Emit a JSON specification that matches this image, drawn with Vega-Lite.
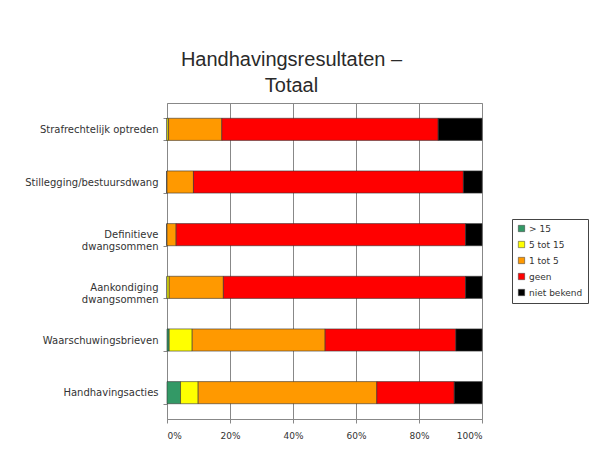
{
  "$schema": "https://vega.github.io/schema/vega-lite/v6.json",
  "width": 315,
  "height": 316,
  "autosize": {"type": "none"},
  "padding": {"left": 167, "top": 103, "right": 112, "bottom": 34},
  "background": "white",
  "title": {
    "text": ["Handhavingsresultaten –", "Totaal"],
    "font": "Liberation Sans",
    "fontSize": 20,
    "fontWeight": "normal",
    "color": "#2a2a2a",
    "lineHeight": 26,
    "anchor": "middle",
    "dx": -33,
    "offset": 2
  },
  "data": {
    "values": [
      {"activiteit": "Strafrechtelijk optreden", "categorie": "> 15", "volgorde": 1, "pct": 0},
      {"activiteit": "Strafrechtelijk optreden", "categorie": "5 tot 15", "volgorde": 2, "pct": 0.5},
      {"activiteit": "Strafrechtelijk optreden", "categorie": "1 tot 5", "volgorde": 3, "pct": 16.9},
      {"activiteit": "Strafrechtelijk optreden", "categorie": "geen", "volgorde": 4, "pct": 68.7},
      {"activiteit": "Strafrechtelijk optreden", "categorie": "niet bekend", "volgorde": 5, "pct": 13.9},
      {"activiteit": "Stillegging/bestuursdwang", "categorie": "> 15", "volgorde": 1, "pct": 0},
      {"activiteit": "Stillegging/bestuursdwang", "categorie": "5 tot 15", "volgorde": 2, "pct": 0},
      {"activiteit": "Stillegging/bestuursdwang", "categorie": "1 tot 5", "volgorde": 3, "pct": 8.4},
      {"activiteit": "Stillegging/bestuursdwang", "categorie": "geen", "volgorde": 4, "pct": 85.7},
      {"activiteit": "Stillegging/bestuursdwang", "categorie": "niet bekend", "volgorde": 5, "pct": 5.9},
      {"activiteit": "Definitieve dwangsommen", "categorie": "> 15", "volgorde": 1, "pct": 0},
      {"activiteit": "Definitieve dwangsommen", "categorie": "5 tot 15", "volgorde": 2, "pct": 0},
      {"activiteit": "Definitieve dwangsommen", "categorie": "1 tot 5", "volgorde": 3, "pct": 2.9},
      {"activiteit": "Definitieve dwangsommen", "categorie": "geen", "volgorde": 4, "pct": 91.9},
      {"activiteit": "Definitieve dwangsommen", "categorie": "niet bekend", "volgorde": 5, "pct": 5.2},
      {"activiteit": "Aankondiging dwangsommen", "categorie": "> 15", "volgorde": 1, "pct": 0},
      {"activiteit": "Aankondiging dwangsommen", "categorie": "5 tot 15", "volgorde": 2, "pct": 0.7},
      {"activiteit": "Aankondiging dwangsommen", "categorie": "1 tot 5", "volgorde": 3, "pct": 17.2},
      {"activiteit": "Aankondiging dwangsommen", "categorie": "geen", "volgorde": 4, "pct": 76.9},
      {"activiteit": "Aankondiging dwangsommen", "categorie": "niet bekend", "volgorde": 5, "pct": 5.2},
      {"activiteit": "Waarschuwingsbrieven", "categorie": "> 15", "volgorde": 1, "pct": 0.7},
      {"activiteit": "Waarschuwingsbrieven", "categorie": "5 tot 15", "volgorde": 2, "pct": 7.3},
      {"activiteit": "Waarschuwingsbrieven", "categorie": "1 tot 5", "volgorde": 3, "pct": 42.2},
      {"activiteit": "Waarschuwingsbrieven", "categorie": "geen", "volgorde": 4, "pct": 41.5},
      {"activiteit": "Waarschuwingsbrieven", "categorie": "niet bekend", "volgorde": 5, "pct": 8.3},
      {"activiteit": "Handhavingsacties", "categorie": "> 15", "volgorde": 1, "pct": 4.3},
      {"activiteit": "Handhavingsacties", "categorie": "5 tot 15", "volgorde": 2, "pct": 5.6},
      {"activiteit": "Handhavingsacties", "categorie": "1 tot 5", "volgorde": 3, "pct": 56.7},
      {"activiteit": "Handhavingsacties", "categorie": "geen", "volgorde": 4, "pct": 24.6},
      {"activiteit": "Handhavingsacties", "categorie": "niet bekend", "volgorde": 5, "pct": 8.8}
    ]
  },
  "mark": {"type": "bar", "stroke": "#333333", "strokeWidth": 0.6},
  "encoding": {
    "y": {
      "field": "activiteit",
      "type": "nominal",
      "sort": ["Strafrechtelijk optreden", "Stillegging/bestuursdwang", "Definitieve dwangsommen", "Aankondiging dwangsommen", "Waarschuwingsbrieven", "Handhavingsacties"],
      "scale": {"paddingInner": 0.58, "paddingOuter": 0.29},
      "axis": {
        "title": null,
        "ticks": true,
        "tickBand": "extent",
        "tickSize": 4,
        "tickColor": "#888888",
        "domain": false,
        "labelFont": "DejaVu Sans",
        "labelFontSize": 10,
        "labelColor": "#333333",
        "labelPadding": 5,
        "labelLimit": 160,
        "labelLineHeight": 12,
        "labelExpr": "indexof(['Definitieve dwangsommen','Aankondiging dwangsommen'], datum.label) >= 0 ? split(datum.label, ' ') : datum.label"
      }
    },
    "x": {
      "field": "pct",
      "type": "quantitative",
      "stack": "normalize",
      "scale": {"domain": [0, 1], "nice": false},
      "axis": {
        "title": null,
        "format": ".0%",
        "values": [0, 0.2, 0.4, 0.6, 0.8, 1],
        "grid": true,
        "gridColor": "#888888",
        "gridWidth": 1,
        "domainColor": "#888888",
        "tickColor": "#888888",
        "tickSize": 4,
        "labelFont": "DejaVu Sans",
        "labelFontSize": 9,
        "labelColor": "#333333",
        "labelPadding": 8
      }
    },
    "color": {
      "field": "categorie",
      "type": "nominal",
      "scale": {
        "domain": ["> 15", "5 tot 15", "1 tot 5", "geen", "niet bekend"],
        "range": ["#339966", "#ffff00", "#ff9900", "#ff0000", "#000000"]
      },
      "legend": {
        "title": null,
        "orient": "none",
        "legendX": 345,
        "legendY": 116,
        "symbolType": "square",
        "symbolSize": 40,
        "symbolStrokeColor": "#333333",
        "symbolStrokeWidth": 0.5,
        "labelFont": "DejaVu Sans",
        "labelFontSize": 9,
        "labelOffset": 3,
        "labelColor": "#333333",
        "rowPadding": 6,
        "strokeColor": "#444444",
        "padding": 5,
        "fillColor": "white"
      }
    },
    "order": {"field": "volgorde", "type": "quantitative"}
  },
  "config": {
    "view": {"stroke": "#888888", "strokeWidth": 1}
  }
}
